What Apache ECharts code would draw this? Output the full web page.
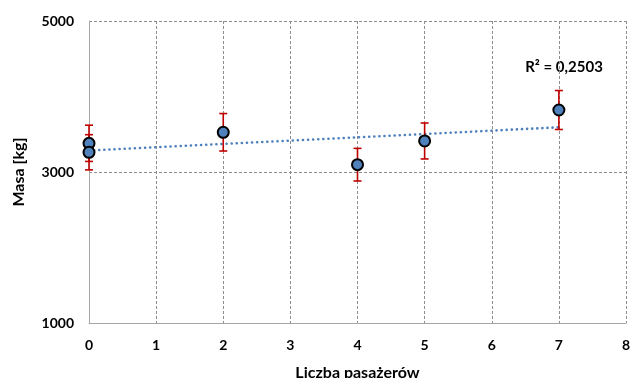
<!DOCTYPE html>
<html>
<head>
<meta charset="utf-8">
<script src="https://cdn.jsdelivr.net/npm/echarts@6/dist/echarts.min.js"></script>
<style>html,body{margin:0;padding:0;background:#fff;}#c{width:633px;height:378px;}</style>
</head>
<body>
<div id="c"></div>
<script>
const passengers = [0, 0, 2, 4, 5, 7];
const mass = [3380, 3261, 3526, 3097, 3411, 3821];
const massErr = [240, 233, 248, 216, 238, 258];
const yTicks = [1000, 3000, 5000];
const xTicks = [0, 1, 2, 3, 4, 5, 6, 7, 8];
const r2Text = 'R² = 0,2503';

// least squares trend line
const n = passengers.length;
const mx = passengers.reduce((a, b) => a + b, 0) / n;
const my = mass.reduce((a, b) => a + b, 0) / n;
let sxy = 0, sxx = 0;
for (let i = 0; i < n; i++) { sxy += (passengers[i] - mx) * (mass[i] - my); sxx += (passengers[i] - mx) ** 2; }
const slope = sxy / sxx, icpt = my - slope * mx;
const xMinD = Math.min(...passengers), xMaxD = Math.max(...passengers);
const trend = [[xMinD, icpt + slope * xMinD], [xMaxD, icpt + slope * xMaxD]];

const errData = passengers.map((x, i) => [x, mass[i] - massErr[i], mass[i] + massErr[i]]);
const pts = passengers.map((x, i) => [x, mass[i]]);

const FONT = 'Lato';
const chart = echarts.init(document.getElementById('c'));
chart.setOption({
  animation: false,
  backgroundColor: '#fff',
  grid: { left: 89, right: 7, top: 21, bottom: 55, outerBoundsMode: 'none', containLabel: false },
  xAxis: {
    type: 'value', min: xTicks[0], max: xTicks[xTicks.length - 1], interval: 1,
    name: 'Liczba pasażerów', nameLocation: 'middle', nameGap: 42,
    nameTextStyle: { fontFamily: FONT, fontWeight: 'bold', fontSize: 16, color: '#000' },
    axisLine: { show: true, lineStyle: { color: '#a6a6a6', width: 1 } },
    axisTick: { show: false },
    axisLabel: { margin: 15, fontFamily: FONT, fontWeight: 'bold', fontSize: 14, color: '#000' },
    splitLine: { show: true, lineStyle: { color: '#8c8c8c', type: [3, 2], width: 1 } }
  },
  yAxis: {
    type: 'value', min: yTicks[0], max: yTicks[yTicks.length - 1], interval: yTicks[1] - yTicks[0],
    name: 'Masa [kg]', nameLocation: 'middle', nameGap: 62, nameRotate: 90,
    nameTextStyle: { fontFamily: FONT, fontWeight: 'bold', fontSize: 16, color: '#000' },
    axisLine: { show: true, lineStyle: { color: '#a6a6a6', width: 1 } },
    axisTick: { show: false },
    axisLabel: { margin: 15, fontFamily: FONT, fontWeight: 'bold', fontSize: 14, color: '#000', formatter: v => String(v) },
    splitLine: { show: true, lineStyle: { color: '#8c8c8c', type: [3, 2], width: 1 } }
  },
  series: [
    {
      type: 'line', data: trend, symbol: 'none', z: 2,
      lineStyle: { color: '#4f81bd', width: 2.6, type: [0.1, 5], cap: 'round' }
    },
    {
      type: 'custom', z: 3,
      renderItem: function (params, api) {
        const x = api.value(0);
        const lo = api.coord([x, api.value(1)]);
        const hi = api.coord([x, api.value(2)]);
        const hw = 4;
        const st = { stroke: '#c00000', lineWidth: 1.6 };
        return {
          type: 'group', children: [
            { type: 'line', shape: { x1: lo[0], y1: lo[1], x2: hi[0], y2: hi[1] }, style: st },
            { type: 'line', shape: { x1: lo[0] - hw, y1: lo[1], x2: lo[0] + hw, y2: lo[1] }, style: st },
            { type: 'line', shape: { x1: hi[0] - hw, y1: hi[1], x2: hi[0] + hw, y2: hi[1] }, style: st }
          ]
        };
      },
      encode: { x: 0, y: [1, 2] },
      data: errData
    },
    {
      type: 'scatter', data: pts, symbol: 'circle', symbolSize: 11, z: 4,
      itemStyle: { color: '#4f81bd', borderColor: '#000', borderWidth: 2, opacity: 1 }
    }
  ],
  graphic: [{
    type: 'text', x: 564, y: 67,
    style: { text: r2Text, fontFamily: FONT, fontWeight: 'bold', fontSize: 15, fill: '#000', align: 'center', verticalAlign: 'middle' }
  }]
});
</script>
</body>
</html>
